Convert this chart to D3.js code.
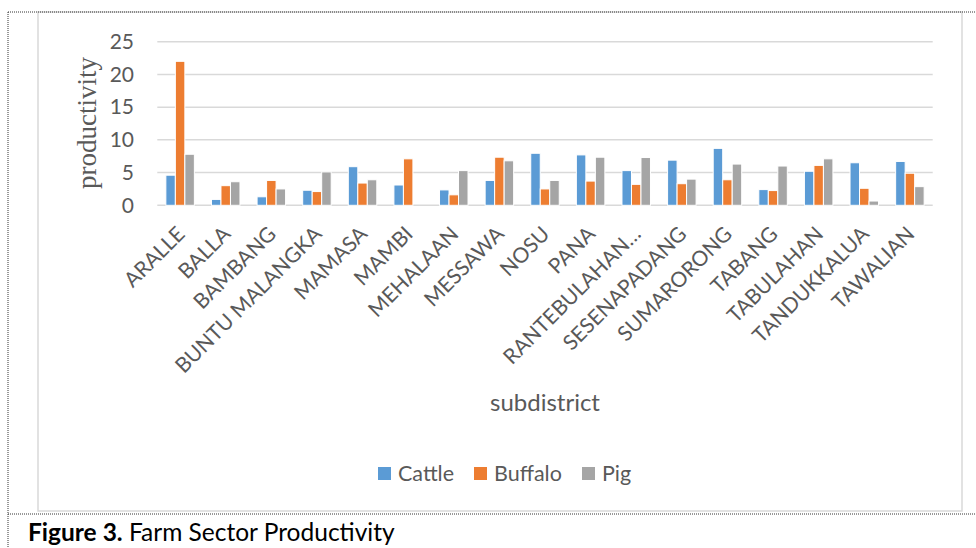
<!DOCTYPE html>
<html>
<head>
<meta charset="utf-8">
<script src="https://cdn.jsdelivr.net/npm/d3@7"></script>
<style>
  html, body { margin: 0; padding: 0; background: #fff; }
  svg { display: block; }
</style>
</head>
<body>
<svg id="chart" width="976" height="548"></svg>
<script>
// Productivity by subdistrict for three livestock types
const subdistricts = ["ARALLE", "BALLA", "BAMBANG", "BUNTU MALANGKA", "MAMASA", "MAMBI",
  "MEHALAAN", "MESSAWA", "NOSU", "PANA", "RANTEBULAHAN TIMUR", "SESENAPADANG",
  "SUMARORONG", "TABANG", "TABULAHAN", "TANDUKKALUA", "TAWALIAN"];
const seriesNames = ["Cattle", "Buffalo", "Pig"];
const cattle  = [4.6, 0.9, 1.3, 2.3, 5.9, 3.1, 2.35, 3.8, 7.95, 7.7, 5.3, 6.9, 8.7, 2.4, 5.2, 6.5, 6.7];
const buffalo = [22.0, 3.0, 3.8, 2.1, 3.4, 7.1, 1.6, 7.35, 2.5, 3.7, 3.2, 3.3, 3.9, 2.25, 6.1, 2.6, 4.9];
const pig     = [7.8, 3.6, 2.5, 5.1, 3.9, 0, 5.3, 6.8, 3.8, 7.35, 7.3, 4.0, 6.3, 6.0, 7.1, 0.65, 2.85];
const yTicks = [0, 5, 10, 15, 20, 25];
const colors = ["#5B9BD5", "#ED7D31", "#A5A5A5"];

const values = [cattle, buffalo, pig];
const svg = d3.select("#chart");
const font = "Lato, 'Open Sans', sans-serif";
const textGray = "#595959";

// Page frame: dotted guide lines and the chart's light border
svg.append("rect").attr("x", 38).attr("y", 12).attr("width", 924).attr("height", 499)
  .attr("fill", "none").attr("stroke", "#d9d9d9").attr("stroke-width", 1.5);
const dotted = [[8, 12, 976, 12], [8, 12, 8, 548], [8, 514, 976, 514]];
svg.selectAll("line.frame").data(dotted).join("line").attr("class", "frame")
  .attr("x1", d => d[0]).attr("y1", d => d[1]).attr("x2", d => d[2]).attr("y2", d => d[3])
  .attr("stroke", "#333").attr("stroke-width", 1).attr("stroke-dasharray", "1,1");

// Scales
const x0 = d3.scaleBand().domain(subdistricts).range([157.3, 932.7]).padding(0);
const bw = x0.bandwidth();
const groupW = 28.5;
const x1 = d3.scaleBand().domain(seriesNames).range([(bw - groupW) / 2, (bw + groupW) / 2]).padding(0);
const y = d3.scaleLinear().domain([0, 25]).range([205.3, 41.7]);

// Gridlines
svg.append("g").selectAll("line").data(yTicks).join("line")
  .attr("x1", 157.3).attr("x2", 932.7)
  .attr("y1", d => y(d)).attr("y2", d => y(d))
  .attr("stroke", "#d9d9d9").attr("stroke-width", 1.5);

// Y axis tick labels
const yAxis = d3.axisLeft(y).tickValues(yTicks).tickSize(0).tickPadding(0);
const gy = svg.append("g").attr("transform", "translate(134,0)").call(yAxis);
gy.select(".domain").remove();
gy.selectAll("text").attr("font-family", font).attr("font-size", 21).attr("fill", textGray);

// Bars
const groups = svg.append("g").selectAll("g").data(subdistricts).join("g")
  .attr("transform", d => `translate(${x0(d)},0)`);
groups.selectAll("rect").data((d, i) => seriesNames.map((s, k) => ({ s, k, v: values[k][i] })))
  .join("rect")
  .attr("x", d => x1(d.s))
  .attr("width", x1.bandwidth())
  .attr("y", d => y(d.v))
  .attr("height", d => y(0) - y(d.v))
  .attr("fill", d => colors[d.k])
  .attr("stroke", "#fff").attr("stroke-width", d => d.v > 0 ? 1 : 0);

// X axis category labels (long names shortened with an ellipsis)
const xAxis = d3.axisBottom(x0).tickSize(0).tickPadding(0)
  .tickFormat(d => d.length > 16 ? "RANTEBULAHAN…" : d);
const gx = svg.append("g").attr("transform", `translate(0,${y(0)})`).call(xAxis);
gx.select(".domain").remove();
gx.selectAll("text")
  .attr("font-family", font).attr("font-size", 21).attr("fill", textGray)
  .attr("text-anchor", "end").attr("dy", null)
  .attr("transform", "translate(6,30) rotate(-45)")
  .attr("y", 0).attr("x", 0);

// Axis titles
svg.append("text").attr("x", 545).attr("y", 411).attr("text-anchor", "middle")
  .attr("font-family", font).attr("font-size", 24).attr("fill", textGray).text("subdistrict");
svg.append("text").attr("transform", "translate(96,123) rotate(-90)").attr("text-anchor", "middle")
  .attr("font-family", "'Liberation Serif', 'Times New Roman', serif").attr("font-size", 27)
  .attr("fill", textGray).text("productivity");

// Legend
const legendX = [378, 474, 582];
const leg = svg.append("g").selectAll("g").data(seriesNames).join("g")
  .attr("transform", (d, i) => `translate(${legendX[i]},467)`);
leg.append("rect").attr("width", 13).attr("height", 13).attr("fill", (d, i) => colors[i]);
leg.append("text").attr("x", 20).attr("y", 13.5)
  .attr("font-family", font).attr("font-size", 21.5).attr("fill", textGray).text(d => d);

// Caption
const cap = svg.append("text").attr("x", 28).attr("y", 541)
  .attr("font-family", font).attr("font-size", 24.5).attr("fill", "#000");
cap.append("tspan").attr("font-weight", "bold").text("Figure 3.");
cap.append("tspan").text(" Farm Sector Productivity");
</script>
</body>
</html>
